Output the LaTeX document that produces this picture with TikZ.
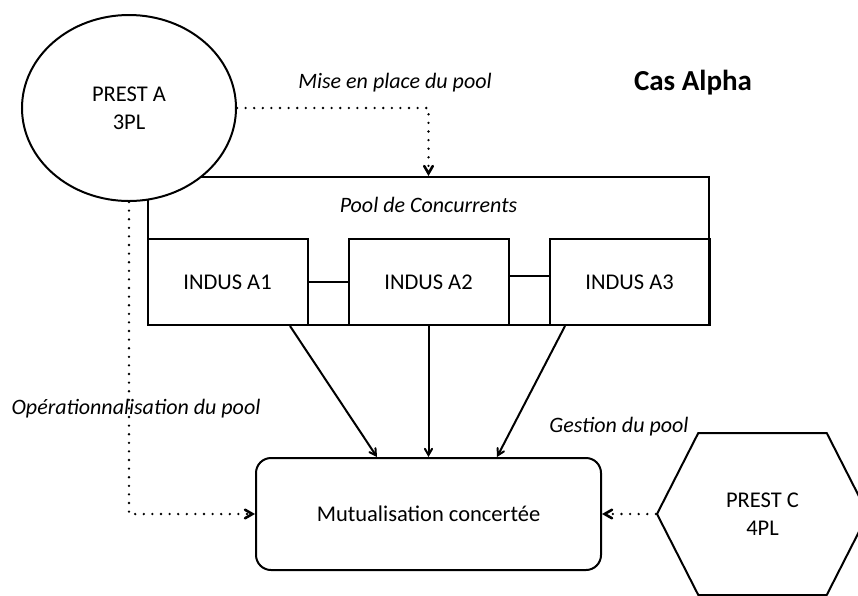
\documentclass[tikz,border=0pt]{standalone}
\usepackage{fontspec}
\setmainfont{Carlito}
\usetikzlibrary{arrows}
\usetikzlibrary{positioning}
\usetikzlibrary{shapes.geometric}
\usetikzlibrary{shapes.symbols}
\tikzset{txt/.style = {font = \fontsize{22.5}{28}\selectfont, align = center, inner sep = 0}}
\tikzset{lbl/.style = {font = \fontsize{22}{28}\selectfont\itshape, inner sep = 0}}
\tikzset{indus/.style = {draw, txt, minimum width = 160, minimum height = 86}}
\tikzset{dotline/.style = {line width = 2.6, dash pattern = on 0pt off 8.6pt, line cap = round}}

\begin{document}
\begin{tikzpicture}[x = 1pt, y = -1pt, >= angle 60, line width = 2]
  \useasboundingbox (0, 0) rectangle (858, 595);
  \node [draw, minimum width = 561, minimum height = 148] (pool) at (428.5, 251) {};
  \node [lbl] (poolname) at (428.5, 205) {Pool de Concurrents};
  \node [indus] (a1) at (227.5, 282) {INDUS A1};
  \node [indus] (a2) at (428.5, 282) {INDUS A2};
  \node [indus] (a3) at (629.5, 282) {INDUS A3};
  \draw (a1.east) -- (a2.west);
  \draw ([yshift = 6]a2.east) -- ([yshift = 6]a3.west);
  % prestataires
  \node [draw, fill = white, ellipse, txt, minimum width = 214, minimum height = 186] (presta) at (129, 108) {PREST A\\3PL};
  \node [draw, signal, signal to = west and east, signal pointer angle = 126, txt,
    minimum width = 211, minimum height = 162] (prestc) at (762.5, 514) {PREST C\\4PL};
  \node [draw, rounded corners = 15, txt, minimum width = 345, minimum height = 112] (mut) at (428.5, 514) {Mutualisation concertée};
  \foreach \src/\dx/\tx in {a1/62.5/-51.5, a2/0/0, a3/-64.5/68.5} {
    \draw [->] ([xshift = \dx]\src.south) -- ([xshift = \tx]mut.north);
  }
  \draw [dotline, ->] (presta.east) -| (pool.north);
  \draw [dotline, ->] (presta.south) |- (mut.west);
  \draw [dotline, ->] (prestc.west) -- (mut.east);
  % labels
  \node [lbl] (mise) at (395, 83) {Mise en place du pool};
  \node [lbl] (oper) at (136, 409) {Opérationnalisation du pool};
  \node [lbl] (gest) at (619, 427) {Gestion du pool};
  \node [font = \fontsize{29}{34}\selectfont\bfseries, inner sep = 0] (cas) at (693, 83) {Cas Alpha};
\end{tikzpicture}
\end{document}
